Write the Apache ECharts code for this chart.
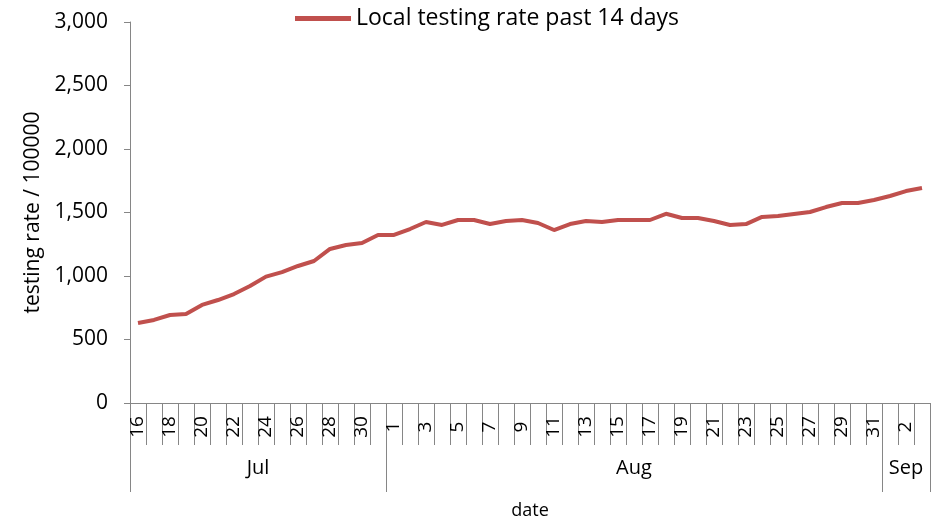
<!DOCTYPE html>
<html><head><meta charset="utf-8">
<script src="https://cdn.jsdelivr.net/npm/echarts@6/dist/echarts.min.js"></script>
<style>html,body{margin:0;padding:0;background:#fff}#c{width:938px;height:523px}</style>
</head><body><div id="c"></div>
<script>
const monthNames = ['Jul', 'Aug', 'Sep'];
const monthDays = [
  ['16','17','18','19','20','21','22','23','24','25','26','27','28','29','30','31'],
  ['1','2','3','4','5','6','7','8','9','10','11','12','13','14','15','16','17','18','19','20','21','22','23','24','25','26','27','28','29','30','31'],
  ['1','2','3']
];
const testingRate = [
  630, 654, 693, 700, 772, 811, 858, 921, 995, 1031, 1079, 1118, 1213, 1244, 1260, 1323,
  1323, 1370, 1425, 1402, 1441, 1441, 1409, 1433, 1441, 1417, 1362, 1409, 1433, 1425, 1441, 1441,
  1441, 1490, 1457, 1457, 1433, 1402, 1409, 1465, 1472, 1488, 1504, 1543, 1575, 1575, 1598,
  1630, 1669, 1693
];
const yTicks = [0, 500, 1000, 1500, 2000, 2500, 3000];

const days = monthDays.flat();
const bounds = [0];
monthDays.forEach(m => bounds.push(bounds[bounds.length - 1] + m.length));
const centers = monthNames.map((_, i) => (bounds[i] + bounds[i + 1]) / 2);

const FONT = 'Open Sans';
const AX = '#868686';
const chart = echarts.init(document.getElementById('c'));
chart.setOption({
  animation: false,
  textStyle: { fontFamily: FONT },
  legend: {
    left: 290, top: 2,
    icon: 'rect', itemWidth: 56, itemHeight: 5, itemGap: 3,
    textStyle: { fontSize: 23, color: '#000', fontFamily: FONT },
    data: ['Local testing rate past 14 days']
  },
  grid: { left: 130, right: 8, top: 22, bottom: 120, outerBoundsMode: 'none', containLabel: false },
  xAxis: [{
    type: 'category', data: days, boundaryGap: true,
    axisLine: { lineStyle: { color: AX, width: 1 } },
    axisTick: { show: true, interval: 0, length: 42, lineStyle: { color: AX } },
    axisLabel: { interval: 1, rotate: 90, align: 'center', verticalAlign: 'middle', margin: 24,
      fontSize: 19, color: '#000', fontFamily: FONT }
  }, {
    type: 'value', min: 0, max: bounds[bounds.length - 1], position: 'bottom', offset: 42,
    splitLine: { show: false },
    axisLine: { show: false },
    axisTick: { show: true, customValues: bounds, length: 47, lineStyle: { color: AX } },
    axisLabel: { customValues: centers, margin: 13, fontSize: 20, color: '#000', fontFamily: FONT,
      formatter: v => { const i = centers.indexOf(v); return i >= 0 ? monthNames[i] : ''; } },
    name: 'date', nameLocation: 'middle', nameGap: 57,
    nameTextStyle: { fontSize: 18, color: '#000', fontFamily: FONT }
  }],
  yAxis: {
    type: 'value', min: yTicks[0], max: yTicks[yTicks.length - 1], interval: 500,
    splitLine: { show: false },
    axisLine: { show: true, lineStyle: { color: AX } },
    axisTick: { show: true, length: 6, lineStyle: { color: AX } },
    axisLabel: { margin: 22, fontSize: 21, color: '#000', fontFamily: FONT,
      formatter: v => v.toLocaleString('en-US') },
    name: 'testing rate / 100000', nameLocation: 'middle', nameRotate: 90, nameGap: 86,
    nameTextStyle: { fontSize: 21, color: '#000', fontFamily: FONT }
  },
  series: [{
    name: 'Local testing rate past 14 days', type: 'line', data: testingRate,
    xAxisIndex: 0, showSymbol: false, symbol: 'none',
    lineStyle: { color: '#C0504D', width: 4 }, itemStyle: { color: '#C0504D' }
  }]
});
</script></body></html>
